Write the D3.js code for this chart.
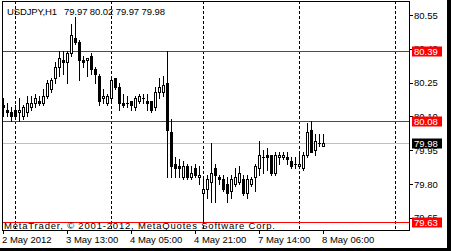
<!DOCTYPE html>
<html>
<head>
<meta charset="utf-8">
<script src="https://cdn.jsdelivr.net/npm/d3@7"></script>
<style>
body { margin: 0; background: #fff; }
svg { display: block; }
text { font-family: "Liberation Sans", Arial, sans-serif; font-size: 9.5px; fill: #000; }
</style>
</head>
<body>
<div class="box"></div>
<script>
// USDJPY H1 bars, 2 May 21:00 .. 8 May 06:00
const open  = [80.15,80.13,80.12,80.13,80.12,80.10,80.12,80.14,80.16,80.17,80.16,80.19,80.22,80.27,80.32,80.35,80.34,80.38,80.45,80.43,
               80.35,80.35,80.37,80.31,80.28,80.18,80.16,80.18,80.27,80.23,80.16,80.16,80.17,80.14,80.17,80.18,80.17,80.17,80.14,80.21,
               80.21,80.25,80.03,79.89,79.88,79.83,79.88,79.83,79.87,79.83,79.76,79.78,79.81,79.87,79.83,79.82,79.80,79.77,79.80,79.81,
               79.82,79.76,79.80,79.83,79.87,79.92,79.93,79.93,79.85,79.92,79.92,79.92,79.90,79.89,79.88,79.87,79.93,80.04,79.95,79.98,79.97];
const high  = [80.18,80.16,80.14,80.15,80.18,80.15,80.19,80.19,80.20,80.19,80.22,80.26,80.27,80.34,80.39,80.39,80.39,80.51,80.54,80.44,
               80.37,80.36,80.38,80.32,80.29,80.22,80.20,80.27,80.27,80.25,80.20,80.19,80.17,80.19,80.20,80.20,80.20,80.17,80.23,80.27,
               80.28,80.39,80.09,79.92,79.91,79.90,79.89,79.88,79.89,79.88,79.83,79.84,79.98,79.89,79.84,79.84,79.83,79.84,79.87,79.88,
               79.84,79.84,79.83,79.89,79.99,79.95,79.96,79.93,79.94,79.94,79.94,79.94,79.92,79.92,79.94,79.94,80.07,80.08,80.02,80.02,80.02];
const low   = [80.10,80.10,80.08,80.09,80.08,80.09,80.10,80.13,80.14,80.15,80.15,80.18,80.21,80.25,80.28,80.29,80.25,80.37,80.42,80.26,
               80.32,80.28,80.29,80.25,80.15,80.16,80.15,80.17,80.22,80.13,80.14,80.14,80.13,80.13,80.16,80.16,80.13,80.12,80.13,80.18,
               80.19,79.83,79.83,79.83,79.83,79.82,79.82,79.82,79.83,79.80,79.63,79.74,79.72,79.72,79.80,79.77,79.72,79.74,79.79,79.80,
               79.75,79.74,79.79,79.77,79.84,79.85,79.86,79.84,79.84,79.89,79.91,79.89,79.87,79.87,79.87,79.86,79.92,79.94,79.93,79.97,79.97];
const close = [80.14,80.12,80.10,80.10,80.13,80.14,80.16,80.16,80.18,80.16,80.19,80.25,80.26,80.32,80.36,80.34,80.38,80.46,80.43,80.35,
               80.34,80.36,80.31,80.29,80.17,80.19,80.19,80.26,80.23,80.16,80.15,80.16,80.15,80.18,80.19,80.18,80.16,80.13,80.21,80.23,
               80.24,80.04,79.88,79.87,79.87,79.88,79.83,79.85,79.84,79.84,79.78,79.82,79.85,79.84,79.82,79.78,79.76,79.82,79.83,79.85,
               79.76,79.82,79.82,79.88,79.93,79.92,79.92,79.85,79.93,79.93,79.93,79.91,79.88,79.89,79.89,79.93,80.03,79.94,79.99,79.98,79.98];

const symbol = 'USDJPY,H1';
const timeLabels = ['2 May 2012', '3 May 13:00', '4 May 05:00', '4 May 21:00', '7 May 14:00', '8 May 06:00'];
const timeLabelBars = [0, 16, 32, 48, 64, 80];
const dayStartBars = [3, 27, 50, 74, 98];
const priceTicks = [80.55, 80.40, 80.25, 80.10, 79.95, 79.80, 79.65];
const levels = [80.39, 80.08, 79.63];
const copyright = 'MetaTrader, \u00a9 2001-2012, MetaQuotes Software Corp.';

const svg = d3.select('.box')
              .append('svg')
              .attr('width', 451)
              .attr('height', 251)
              .style('background', '#fff');

// plot area
const plot = {left: 2, top: 1, right: 409, bottom: 230};

const x = d3.scaleLinear().domain([0, 80]).range([3, 323]);
const y = d3.scaleLinear().domain([79.80, 80.55]).range([184, 15]);
const py = v => Math.round(y(v));

const bars = open.map((o, i) => ({i, o, h: high[i], l: low[i], c: close[i]}));
const last = bars[bars.length - 1];

// vertical dashed grid at day starts
svg.append('g').selectAll('line')
   .data(dayStartBars)
   .enter().append('line')
   .attr('x1', d => x(d) + 0.5).attr('x2', d => x(d) + 0.5)
   .attr('y1', plot.top).attr('y2', plot.bottom)
   .attr('stroke', '#000')
   .attr('stroke-dasharray', '3,2')
   .attr('shape-rendering', 'crispEdges');

// bid line
svg.append('line')
   .attr('x1', plot.left).attr('x2', plot.right)
   .attr('y1', py(last.c) + 0.5).attr('y2', py(last.c) + 0.5)
   .attr('stroke', '#c0c0c0')
   .attr('shape-rendering', 'crispEdges');

// horizontal levels
svg.append('g').selectAll('line')
   .data(levels)
   .enter().append('line')
   .attr('x1', plot.left).attr('x2', plot.right)
   .attr('y1', d => py(d) + 0.5).attr('y2', d => py(d) + 0.5)
   .attr('stroke', '#ff0000')
   .attr('shape-rendering', 'crispEdges');

// candles
const candles = svg.append('g').attr('shape-rendering', 'crispEdges');

candles.selectAll('line.wick')
       .data(bars)
       .enter().append('line')
       .attr('class', 'wick')
       .attr('x1', d => x(d.i) + 0.5).attr('x2', d => x(d.i) + 0.5)
       .attr('y1', d => py(d.h)).attr('y2', d => py(d.l) + 1)
       .attr('stroke', '#000');

candles.selectAll('rect.body')
       .data(bars.filter(d => py(d.o) !== py(d.c)))
       .enter().append('rect')
       .attr('class', 'body')
       .attr('x', d => x(d.i) - 0.5)
       .attr('y', d => py(Math.max(d.o, d.c)) + 0.5)
       .attr('width', 2)
       .attr('height', d => py(Math.min(d.o, d.c)) - py(Math.max(d.o, d.c)))
       .attr('fill', d => d.c > d.o ? '#fff' : '#000')
       .attr('stroke', '#000');

candles.selectAll('line.doji')
       .data(bars.filter(d => py(d.o) === py(d.c)))
       .enter().append('line')
       .attr('class', 'doji')
       .attr('x1', d => x(d.i) - 1).attr('x2', d => x(d.i) + 2)
       .attr('y1', d => py(d.c) + 0.5).attr('y2', d => py(d.c) + 0.5)
       .attr('stroke', '#000');

// frame
svg.append('rect')
   .attr('x', plot.left + 0.5).attr('y', plot.top + 0.5)
   .attr('width', plot.right - plot.left).attr('height', plot.bottom - plot.top)
   .attr('fill', 'none').attr('stroke', '#000')
   .attr('shape-rendering', 'crispEdges');

// price axis
const axeY = d3.axisRight(y)
               .tickValues(priceTicks)
               .tickSize(4)
               .tickPadding(1)
               .tickFormat(d3.format('.2f'));
const groupeY = svg.append('g')
                   .attr('transform', `translate(${plot.right}, 0)`)
                   .call(axeY);
groupeY.select('.domain').remove();
groupeY.selectAll('line').attr('shape-rendering', 'crispEdges');
groupeY.selectAll('text').attr('font-family', null).attr('font-size', null);

// time axis
const axeX = d3.axisBottom(x)
               .tickValues(timeLabelBars)
               .tickSize(4)
               .tickFormat((d, i) => timeLabels[i]);
const groupeX = svg.append('g')
                   .attr('transform', `translate(0, ${plot.bottom})`)
                   .call(axeX);
groupeX.select('.domain').remove();
groupeX.selectAll('line').attr('shape-rendering', 'crispEdges');
groupeX.selectAll('text')
       .attr('font-family', null).attr('font-size', null)
       .attr('text-anchor', 'start')
       .attr('x', -1.5)
       .attr('y', 13)
       .attr('dy', null);

// price labels for levels and bid
const tags = levels.map(v => ({v, fill: '#ff0000'})).concat([{v: last.c, fill: '#000'}]);
const tagG = svg.append('g').selectAll('g')
                .data(tags)
                .enter().append('g')
                .attr('transform', d => `translate(${plot.right + 3}, ${py(d.v)})`);
tagG.append('rect')
    .attr('x', 0).attr('y', -4.5)
    .attr('width', 30).attr('height', 10)
    .attr('fill', d => d.fill);
tagG.append('text')
    .attr('x', 2).attr('y', 0.5).attr('dy', '0.32em')
    .style('fill', '#fff')
    .text(d => d3.format('.2f')(d.v));

// title
const fmt = d3.format('.2f');
svg.append('text').attr('x', 7).attr('y', 15)
   .attr('textLength', 50).attr('lengthAdjust', 'spacing')
   .text(symbol);
svg.append('text').attr('x', 64).attr('y', 15)
   .attr('textLength', 101).attr('lengthAdjust', 'spacing')
   .text([last.o, last.h, last.l, last.c].map(fmt).join(' '));

// copyright
svg.append('text')
   .attr('x', 4).attr('y', 229)
   .attr('textLength', 271)
   .attr('lengthAdjust', 'spacing')
   .text(copyright);

// window edge
svg.append('rect').attr('x', 447).attr('y', 0).attr('width', 4).attr('height', 251).attr('fill', '#000');
svg.append('rect').attr('x', 0).attr('y', 248).attr('width', 451).attr('height', 3).attr('fill', '#000');
</script>
</body>
</html>
